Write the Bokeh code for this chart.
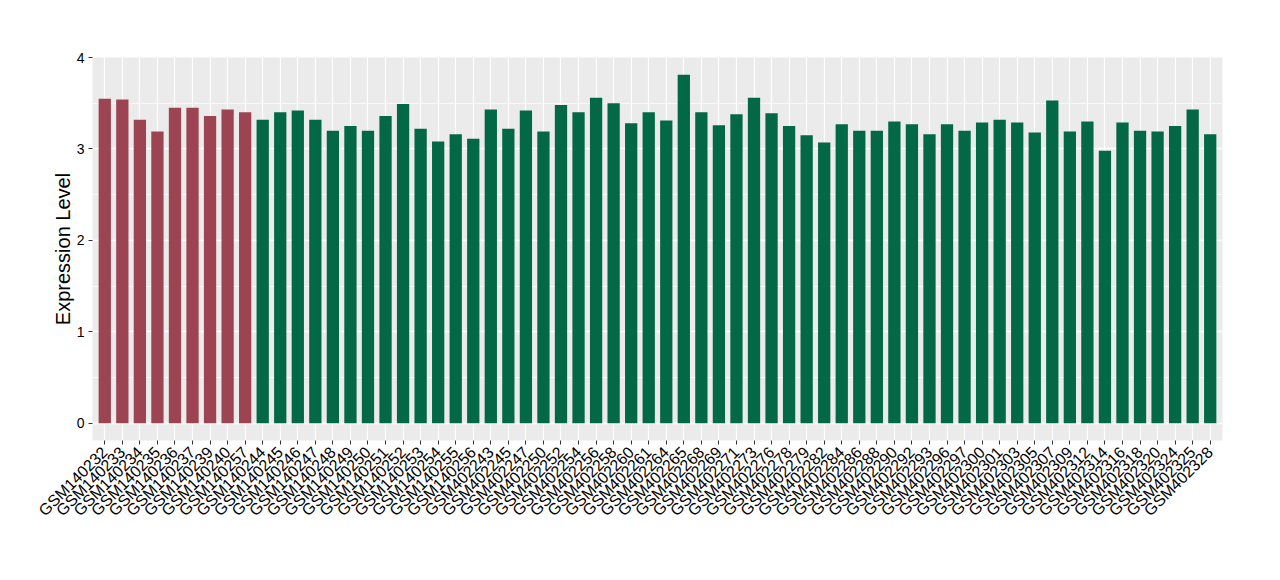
import math
from bokeh.plotting import figure
from bokeh.models import FactorRange, Range1d, ColumnDataSource, SingleIntervalTicker
from bokeh.embed import file_html
from bokeh.resources import INLINE

samples = [
    "GSM140232", "GSM140233", "GSM140234", "GSM140235", "GSM140236", "GSM140237",
    "GSM140239", "GSM140240", "GSM140257",
    "GSM140244", "GSM140245", "GSM140246", "GSM140247", "GSM140248", "GSM140249",
    "GSM140250", "GSM140251", "GSM140252", "GSM140253", "GSM140254", "GSM140255",
    "GSM140256", "GSM402243", "GSM402245", "GSM402247", "GSM402250", "GSM402252",
    "GSM402254", "GSM402256", "GSM402258", "GSM402260", "GSM402261", "GSM402264",
    "GSM402265", "GSM402268", "GSM402269", "GSM402271", "GSM402273", "GSM402276",
    "GSM402278", "GSM402279", "GSM402282", "GSM402284", "GSM402286", "GSM402288",
    "GSM402290", "GSM402292", "GSM402293", "GSM402296", "GSM402297", "GSM402300",
    "GSM402301", "GSM402303", "GSM402305", "GSM402307", "GSM402309", "GSM402312",
    "GSM402314", "GSM402316", "GSM402318", "GSM402320", "GSM402324", "GSM402325",
    "GSM402328",
]

values = [
    3.55, 3.54, 3.32, 3.19, 3.45, 3.45, 3.36, 3.43, 3.40,
    3.32, 3.40, 3.42, 3.32, 3.20, 3.25, 3.20, 3.36, 3.49, 3.22, 3.08, 3.16,
    3.11, 3.43, 3.22, 3.42, 3.19, 3.48, 3.40, 3.56, 3.50, 3.28, 3.40, 3.31,
    3.81, 3.40, 3.26, 3.38, 3.56, 3.39, 3.25, 3.15, 3.07, 3.27, 3.20, 3.20,
    3.30, 3.27, 3.16, 3.27, 3.20, 3.29, 3.32, 3.29, 3.18, 3.53, 3.19, 3.30,
    2.98, 3.29, 3.20, 3.19, 3.25, 3.43, 3.16,
]

groups = ["A"] * 9 + ["B"] * 55
group_colors = {"A": "#9C4452", "B": "#026846"}
colors = [group_colors[g] for g in groups]

source = ColumnDataSource(dict(x=samples, top=values, color=colors))

p = figure(
    x_range=FactorRange(factors=samples, range_padding=0.2, range_padding_units="absolute"),
    y_range=Range1d(-0.19, 4.0),
    frame_width=1130, frame_height=383,
    min_border_left=92, min_border_right=42, min_border_top=57, min_border_bottom=124,
    output_backend="svg", toolbar_location=None,
    background_fill_color="#EBEBEB", border_fill_color="white",
)
p.outline_line_color = None

p.vbar(x="x", top="top", bottom=0, width=0.7, fill_color="color", line_color=None, source=source)

# grid
p.xgrid.grid_line_color = "white"
p.xgrid.grid_line_width = 1.2
p.ygrid.grid_line_color = "white"
p.ygrid.grid_line_width = 1.4
p.ygrid.minor_grid_line_color = "white"
p.ygrid.minor_grid_line_width = 0.7
p.yaxis.ticker = SingleIntervalTicker(interval=1, num_minor_ticks=2)

# axes
for ax in (p.xaxis, p.yaxis):
    ax.axis_line_color = None
    ax.major_tick_line_color = "#333333"
    ax.major_tick_in = 0
    ax.major_tick_out = 4
    ax.minor_tick_line_color = None
    ax.major_label_text_font = "Liberation Sans"
    ax.major_label_text_font_size = "14px"
    ax.major_label_text_color = "black"

p.xaxis.major_label_orientation = math.pi / 4
p.xaxis.major_label_text_font_size = "16px"
p.xaxis.major_label_standoff = 5

p.yaxis.major_label_standoff = 4
p.yaxis.axis_label = "Expression Level"
p.yaxis.axis_label_text_font = "Liberation Sans"
p.yaxis.axis_label_text_font_size = "20px"
p.yaxis.axis_label_text_font_style = "normal"
p.yaxis.axis_label_text_color = "black"
p.yaxis.axis_label_standoff = 0

open("out.html", "w").write(file_html(p, INLINE))
